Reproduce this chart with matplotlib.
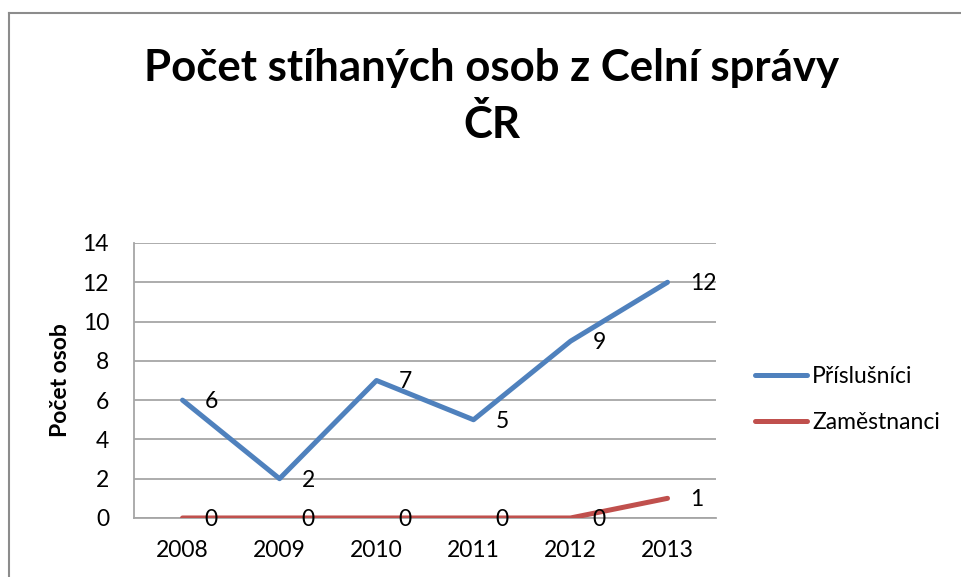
import matplotlib.pyplot as plt
from matplotlib.lines import Line2D

plt.rcParams['font.family'] = ['Lato', 'DejaVu Sans']

years = ['2008', '2009', '2010', '2011', '2012', '2013']
prislusnici = [6, 2, 7, 5, 9, 12]
zamestnanci = [0, 0, 0, 0, 0, 1]

blue = '#4F81BD'
red = '#C0504D'
grid = '#A6A6A6'
fs = 16.5

fig = plt.figure(figsize=(9.62, 5.77), dpi=100)
ax = fig.add_axes([0.1393, 0.1023, 0.605, 0.4766])

x = list(range(len(years)))
ax.plot(x, prislusnici, color=blue, lw=3.6, solid_capstyle='round', label='Příslušníci', zorder=3)
ax.plot(x, zamestnanci, color=red, lw=3.6, solid_capstyle='round', label='Zaměstnanci', zorder=3)

# data labels to the right of points
for xi, v in zip(x, prislusnici):
    ax.annotate(str(v), (xi, v), xytext=(16, -1), textcoords='offset points',
                ha='left', va='center', fontsize=fs, zorder=4)
for xi, v in zip(x, zamestnanci):
    ax.annotate(str(v), (xi, v), xytext=(16, -1), textcoords='offset points',
                ha='left', va='center', fontsize=fs, zorder=4)

ax.set_xlim(-0.5, len(years) - 0.5)
ax.set_ylim(0, 14)
ax.set_yticks(range(0, 15, 2))
ax.set_xticks(x)
ax.set_xticklabels(years)
ax.tick_params(axis='both', length=0, labelsize=fs)
ax.tick_params(axis='x', pad=16)
ax.tick_params(axis='y', pad=18)
ax.yaxis.grid(True, color=grid, lw=1.3)
ax.set_axisbelow(True)
for s in ['top', 'right']:
    ax.spines[s].set_visible(False)
for s in ['left', 'bottom']:
    ax.spines[s].set_color(grid)
    ax.spines[s].set_linewidth(1.3)

ax.set_ylabel('Počet osob', fontsize=fs, fontweight='bold', labelpad=8)

fig.suptitle('Počet stíhaných osob z Celní správy\nČR', x=0.511, y=0.916,
             fontsize=31.5, fontweight='bold', linespacing=1.47)

ax.legend(loc='center left', bbox_to_anchor=(1.031, 0.431), frameon=False,
          fontsize=fs, handlelength=2.3, handletextpad=0.2, labelspacing=1.1)

# chart border (top and left edges visible)
y0 = 1 - 13 / 577
x0 = 9 / 962
fig.add_artist(Line2D([x0, 1], [y0, y0], transform=fig.transFigure, color='#8C8C8C', lw=1.5))
fig.add_artist(Line2D([x0, x0], [0, y0], transform=fig.transFigure, color='#8C8C8C', lw=1.5))

fig.savefig('out.png', dpi=100)
